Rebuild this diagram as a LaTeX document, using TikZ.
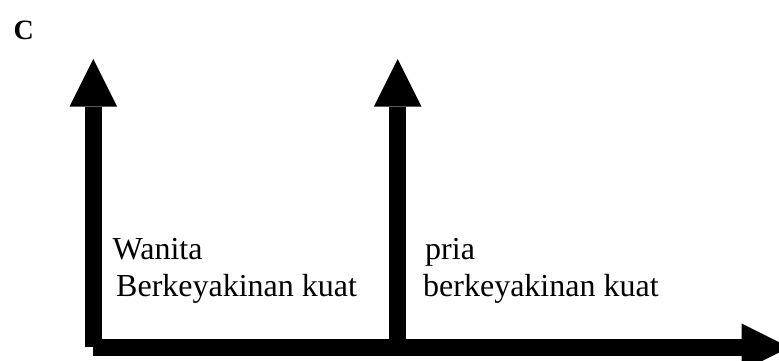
\documentclass[tikz,border=0pt]{standalone}
\usepackage{fontspec}
\setmainfont{Liberation Serif}
\begin{document}
\begin{tikzpicture}[x=1pt,y=-1pt,
  shaft/.style={line width=16.7pt, line cap=butt},
  label/.style={inner sep=0pt, anchor=base west, font=\fontsize{32}{38}\selectfont},
  tag/.style={inner sep=0pt, anchor=base west, font=\fontsize{28}{33}\selectfont\bfseries}]
\useasboundingbox (0,0) rectangle (779,361);
\clip (0,0) rectangle (779,361);

% shaft end points
\coordinate (lb) at (93.35,347.35);
\coordinate (lt) at (93.35,106.7);
\coordinate (mb) at (397.65,347.35);
\coordinate (mt) at (397.65,106.7);
\coordinate (hl) at (93.35,347.35);
\coordinate (hr) at (741.7,347.35);

% shafts
\draw[shaft] (lb) -- (lt);
\draw[shaft] (mb) -- (mt);
\draw[shaft] (hl) -- (hr);

% arrow heads
\fill ([xshift=-23.85pt]lt) -- ([xshift=23.85pt]lt) -- ([yshift=47.7pt]lt) -- cycle;
\fill ([xshift=-23.85pt]mt) -- ([xshift=23.85pt]mt) -- ([yshift=47.7pt]mt) -- cycle;
\fill ([yshift=23.85pt]hr) -- ([yshift=-23.85pt]hr) -- ([xshift=47.7pt]hr) -- cycle;

% labels
\node[tag] (c) at (13.3,39.3) {C};
\node[label] (w1) at (112.5,259.3) {Wanita};
\node[label] (w2) at (116,296.7) {Berkeyakinan kuat};
\node[label] (p1) at (425,259.3) {pria};
\node[label] (p2) at (423,296.7) {berkeyakinan kuat};
\end{tikzpicture}
\end{document}
